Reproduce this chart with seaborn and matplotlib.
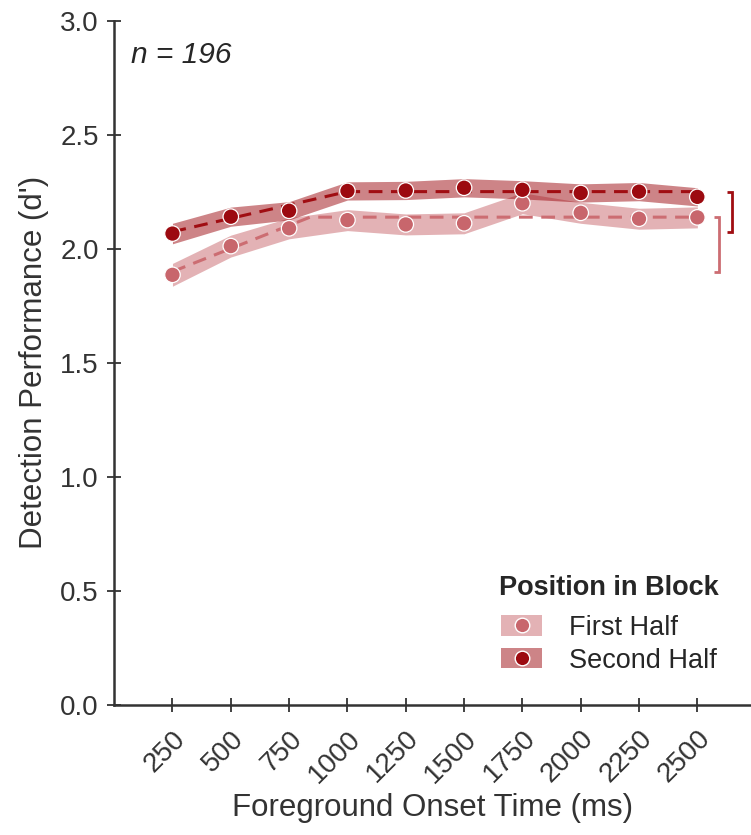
import numpy as np
import pandas as pd
import seaborn as sns
import matplotlib.pyplot as plt
from matplotlib.patches import Patch
from matplotlib.lines import Line2D

# onset times (ms)
onsets = [250, 500, 750, 1000, 1250, 1500, 1750, 2000, 2250, 2500]

# mean d' per onset
first_half = [1.886, 2.012, 2.090, 2.126, 2.107, 2.112, 2.200, 2.158, 2.132, 2.138]
second_half = [2.067, 2.141, 2.167, 2.254, 2.256, 2.268, 2.259, 2.245, 2.251, 2.228]

# half-width of the shaded band
first_err = [0.050, 0.048, 0.046, 0.046, 0.046, 0.046, 0.046, 0.046, 0.046, 0.046]
second_err = [0.045, 0.042, 0.040, 0.040, 0.040, 0.040, 0.040, 0.040, 0.040, 0.040]

# piecewise (rise then plateau) fits
first_fit_x = [250, 840, 2500]
first_fit_y = [1.900, 2.139, 2.139]
second_fit_x = [250, 1000, 2500]
second_fit_y = [2.075, 2.251, 2.251]

labels = ["First Half", "Second Half"]
point_colors = {"First Half": "#c8666c", "Second Half": "#9c0a10"}
line_colors = {"First Half": "#cc6d72", "Second Half": "#a00d12"}

df = pd.concat([
    pd.DataFrame({"onset": onsets, "dprime": first_half, "err": first_err, "half": "First Half"}),
    pd.DataFrame({"onset": onsets, "dprime": second_half, "err": second_err, "half": "Second Half"}),
])
fits = pd.concat([
    pd.DataFrame({"onset": first_fit_x, "dprime": first_fit_y, "half": "First Half"}),
    pd.DataFrame({"onset": second_fit_x, "dprime": second_fit_y, "half": "Second Half"}),
])

sns.set_style("ticks")
plt.rcParams["font.family"] = ["Liberation Sans", "DejaVu Sans"]

fig = plt.figure(figsize=(7.51, 8.35), dpi=100)
ax = fig.add_axes([0.152, 0.156, 0.848, 0.819])

# shaded bands
for h in labels:
    d = df[df["half"] == h]
    ax.fill_between(d["onset"], d["dprime"] - d["err"], d["dprime"] + d["err"],
                    color=point_colors[h], alpha=0.5, linewidth=0, zorder=1)

# dashed fits
sns.lineplot(data=fits, x="onset", y="dprime", hue="half", palette=line_colors,
             linestyle=(0, (4.5, 2.8)), linewidth=2.2, legend=False, ax=ax, zorder=2)

# points
sns.scatterplot(data=df, x="onset", y="dprime", hue="half", palette=point_colors,
                s=125, edgecolor="white", linewidth=0.9, legend=False, ax=ax, zorder=3)

# brackets showing rise from fit start to plateau
for h, fx, fy, bx in [("First Half", first_fit_x, first_fit_y, 2594),
                      ("Second Half", second_fit_x, second_fit_y, 2650)]:
    ax.plot([bx - 22, bx, bx, bx - 22], [fy[-1], fy[-1], fy[0], fy[0]],
            color=line_colors[h], linewidth=2, clip_on=False,
            solid_capstyle="butt", solid_joinstyle="miter")

ax.set_xlim(0, 2730)
ax.set_ylim(0, 3.0)
ax.set_xticks(onsets)
ax.set_xticklabels([str(o) for o in onsets], rotation=45, ha="right",
                   rotation_mode="anchor")
ax.set_yticks(np.arange(0, 3.01, 0.5))
ax.set_yticklabels([f"{v:.1f}" for v in np.arange(0, 3.01, 0.5)])
ax.tick_params(direction="inout", length=10, width=1.3, labelsize=20,
               colors="#333333", pad=6)
ax.tick_params(axis="x", pad=10)
for s in ["left", "bottom"]:
    ax.spines[s].set_linewidth(1.8)
    ax.spines[s].set_color("#333333")
sns.despine(ax=ax)

ax.set_xlabel("Foreground Onset Time (ms)", fontsize=22.5, color="#333333", labelpad=4)
ax.set_ylabel("Detection Performance (d')", fontsize=22.5, color="#333333", labelpad=8)

ax.text(0.027, 0.97, "n = 196", transform=ax.transAxes, fontsize=21.5,
        style="italic", va="top", ha="left")

handles = [(Patch(facecolor=point_colors[h], alpha=0.5, edgecolor="none"),
            Line2D([], [], marker="o", linestyle="none", markersize=10.5,
                   markerfacecolor=point_colors[h], markeredgecolor="white"))
           for h in labels]
leg = ax.legend(handles, labels, title="Position in Block", loc="lower right",
                bbox_to_anchor=(0.988, 0.01), frameon=False, fontsize=19.5,
                title_fontproperties={"weight": "bold", "size": 19.5},
                handlelength=1.5, handleheight=0.8, handletextpad=1.0,
                labelspacing=0.25)
leg._legend_box.sep = 10

fig.savefig("out.png", dpi=100)
